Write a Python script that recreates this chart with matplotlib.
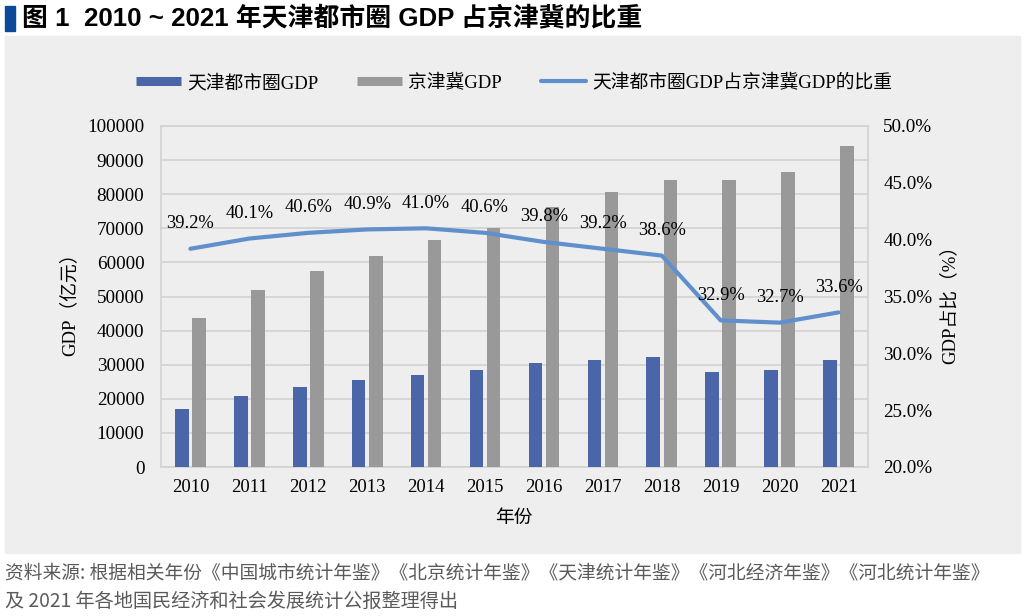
import numpy as np
import matplotlib
matplotlib.use('Agg')
import matplotlib.pyplot as plt
from matplotlib.patches import Rectangle
from matplotlib.lines import Line2D

plt.rcParams['font.family'] = ['Liberation Serif', 'Noto Sans CJK SC']
plt.rcParams['axes.unicode_minus'] = False

# 数据
years = ['2010', '2011', '2012', '2013', '2014', '2015',
         '2016', '2017', '2018', '2019', '2020', '2021']
tj_gdp = [17100, 20900, 23400, 25400, 27100, 28400,
          30400, 31500, 32400, 27900, 28400, 31500]
jjj_gdp = [43700, 51900, 57500, 62000, 66500, 70000,
           76300, 80500, 84300, 84300, 86400, 94000]
share = [39.2, 40.1, 40.6, 40.9, 41.0, 40.6,
         39.8, 39.2, 38.6, 32.9, 32.7, 33.6]
left_ticks = list(range(0, 100001, 10000))
right_ticks = [20, 25, 30, 35, 40, 45, 50]

W, H = 1024, 616
fig = plt.figure(figsize=(W / 100, H / 100), dpi=100)
fig.patch.set_facecolor('white')

def fx(px):
    return px / W

def fy(py):
    return 1 - py / H

# 灰色底板 + 标题
fig.patches.append(Rectangle((fx(5), fy(553)), fx(1015), 517 / H,
                             transform=fig.transFigure, color='#eeeeee', zorder=-5))
fig.patches.append(Rectangle((fx(5), fy(31)), fx(10), 25 / H,
                             transform=fig.transFigure, color='#0b4a9a', zorder=-5))
fig.text(fx(22), fy(18), '图 1  2010 ~ 2021 年天津都市圈 GDP 占京津冀的比重',
         fontsize=18.6, fontweight='bold', va='center', ha='left',
         family=['Liberation Sans', 'Noto Sans CJK SC'])

ax = fig.add_axes([fx(161), fy(467), 707 / W, 341 / H])
ax.set_facecolor('none')
x = np.arange(len(years))
w = 0.23
ax.bar(x - 0.145, tj_gdp, width=w, color='#4a65a8', zorder=3)
ax.bar(x + 0.145, jjj_gdp, width=w, color='#999999', zorder=3)
ax.set_xlim(-0.5, 11.5)
ax.set_ylim(0, 100000)
ax.set_yticks(left_ticks)
ax.set_xticks(x)
ax.set_xticklabels(years)
ax.grid(axis='y', color='#d2d2d2', linewidth=1.2, zorder=0)
ax.set_axisbelow(True)
ax.tick_params(axis='y', length=0, pad=12, labelsize=13.8)
ax.tick_params(axis='x', length=0, pad=9, labelsize=13.5)
for s in ax.spines.values():
    s.set_color('#d2d2d2')
    s.set_linewidth(1.2)

ax2 = ax.twinx()
ax2.plot(x, share, color='#6090cc', linewidth=3, solid_capstyle='round',
         solid_joinstyle='round', zorder=5)
ax2.set_ylim(20, 50)
ax2.set_yticks(right_ticks)
ax2.set_yticklabels([f'{v:.1f}%' for v in right_ticks])
ax2.tick_params(axis='y', length=0, pad=11, labelsize=13.8)
for s in ax2.spines.values():
    s.set_visible(False)
for xi, v in zip(x, share):
    ax2.annotate(f'{v:.1f}%', (xi, v), xytext=(0, 25), textcoords='offset pixels',
                 ha='center', va='center', fontsize=13.3, zorder=6)

# 轴标题
fig.text(fx(70), fy(300), 'GDP（亿元）', rotation=90, ha='center', va='center', fontsize=13.5)
fig.text(fx(950), fy(300), 'GDP占比（%）', rotation=90, ha='center', va='center', fontsize=13.5)
fig.text(fx(514), fy(518), '年份', ha='center', va='center', fontsize=13.5)

# 图例
handles = [Line2D([], [], color='#4a65a8', linewidth=6.5, solid_capstyle='butt'),
           Line2D([], [], color='#999999', linewidth=6.5, solid_capstyle='butt'),
           Line2D([], [], color='#6090cc', linewidth=3, solid_capstyle='round')]
labels = ['天津都市圈GDP', '京津冀GDP', '天津都市圈GDP占京津冀GDP的比重']
fig.legend(handles, labels, loc='center', bbox_to_anchor=(fx(514), fy(83)),
           ncol=3, frameon=False, fontsize=13.5, handlelength=2.4,
           handletextpad=0.3, columnspacing=2.1)

# 资料来源
src_font = ['Noto Sans CJK SC', 'DejaVu Sans']
fig.text(fx(5), fy(573), '资料来源: 根据相关年份《中国城市统计年鉴》《北京统计年鉴》《天津统计年鉴》《河北经济年鉴》《河北统计年鉴》',
         ha='left', va='center', fontsize=13.5, color='#5a5a5a', family=src_font,
         fontweight='light')
fig.text(fx(5), fy(601), '及 2021 年各地国民经济和社会发展统计公报整理得出',
         ha='left', va='center', fontsize=13.8, color='#5a5a5a', family=src_font,
         fontweight='light')

fig.savefig('out.png', dpi=100, facecolor='white')
